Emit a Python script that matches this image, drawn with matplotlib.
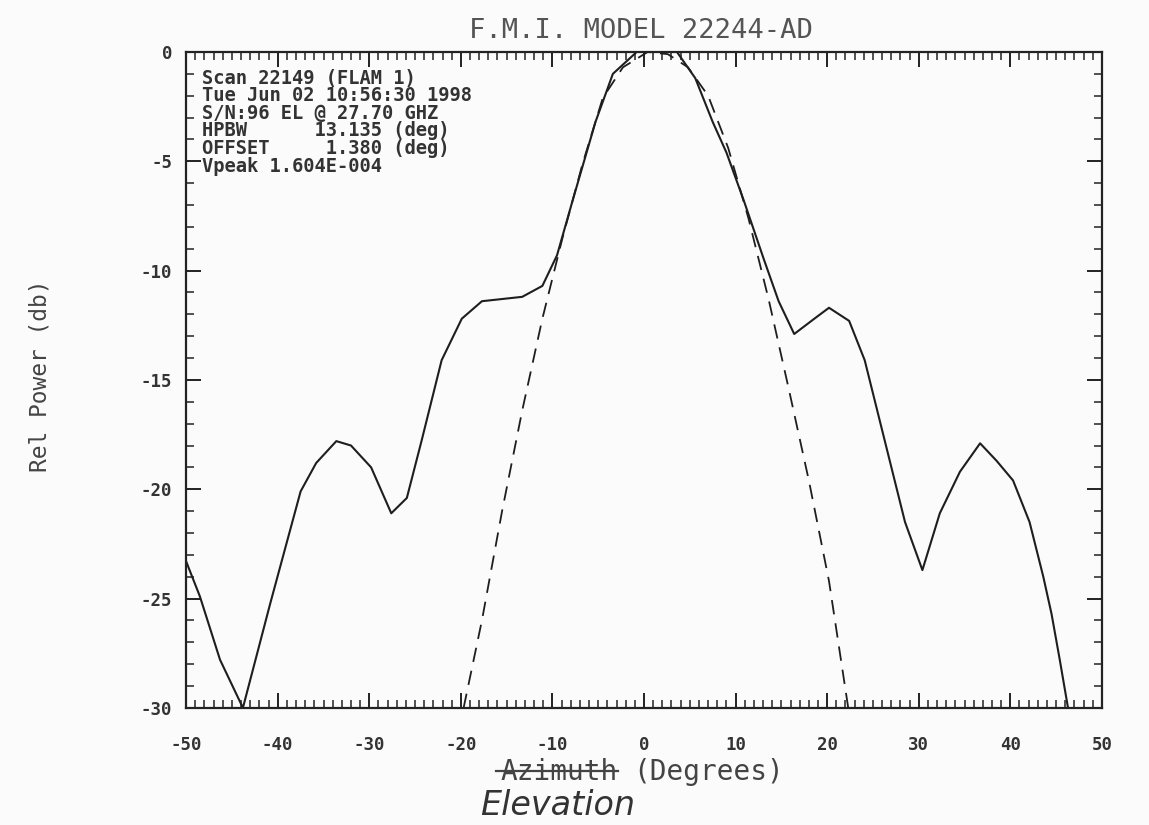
import matplotlib
matplotlib.use("Agg")
import matplotlib.pyplot as plt
from matplotlib.ticker import MultipleLocator
from matplotlib.lines import Line2D

# Measured pattern (solid)
meas_az = [-50, -48.5, -46.3, -43.8, -40.8, -37.5, -35.8, -33.6, -32.0, -29.8,
           -27.6, -25.9, -24.3, -22.1, -19.9, -17.7, -15.5, -13.3, -11.1, -9.5, -7.8,
           -5.3, -3.4, -0.8, 1.4, 3.6, 5.6, 7.5, 9.0, 10.9, 13.1, 14.7, 16.4, 18.6, 20.2,
           22.4, 24.1, 26.3, 28.5, 30.4, 32.3, 34.5, 36.7, 38.5, 40.3, 42.1, 43.6, 44.5,
           45.4, 46.3]
meas_db = [-23.3, -24.9, -27.8, -30.0, -25.2, -20.1, -18.8, -17.8, -18.0, -19.0,
           -21.1, -20.4, -17.8, -14.1, -12.2, -11.4, -11.3, -11.2, -10.7, -9.3, -6.8,
           -3.2, -1.0, 0.0, 0.0, 0.0, -1.2, -3.2, -4.6, -6.8, -9.5, -11.4, -12.9, -12.2, -11.7,
           -12.3, -14.1, -17.8, -21.5, -23.7, -21.1, -19.2, -17.9, -18.7, -19.6, -21.5,
           -24.0, -25.7, -27.8, -30.0]

# Fitted main beam (dashed)
fit_az = [-19.7, -17.7, -15.5, -13.3, -11.1, -8.9, -6.7, -4.5, -2.3, 0.4, 2.6, 4.8, 7.0,
          9.2, 11.4, 13.6, 15.8, 18.0, 20.2, 22.3]
fit_db = [-30.0, -26.0, -21.0, -16.4, -12.2, -8.5, -5.1, -2.1, -0.7, 0.0, -0.1, -0.7, -2.0,
          -4.4, -7.6, -11.3, -15.4, -19.6, -24.2, -30.0]

xticks = [-50, -40, -30, -20, -10, 0, 10, 20, 30, 40, 50]
xticklabels = ["-50", "-40", "-30", "-20", "-10", "0", "10", "20", "30", "40", "50"]
yticks = [0, -5, -10, -15, -20, -25, -30]
yticklabels = ["0", "-5", "-10", "-15", "-20", "-25", "-30"]

info_lines = ["Scan 22149 (FLAM 1)",
              "Tue Jun 02 10:56:30 1998",
              "S/N:96 EL @ 27.70 GHZ",
              "HPBW      13.135 (deg)",
              "OFFSET     1.380 (deg)",
              "Vpeak 1.604E-004"]

mono = "DejaVu Sans Mono"
bg = "#fbfbfb"
ink = "#1e1e1e"
fig = plt.figure(figsize=(11.49, 8.25), dpi=100, facecolor=bg)
ax = fig.add_axes([0.162, 0.142, 0.797, 0.795])
ax.set_facecolor(bg)

ax.plot(meas_az, meas_db, color=ink, lw=1.5)
ax.plot(fit_az, fit_db, color=ink, lw=1.3, dashes=(8, 5))

ax.set_xlim(-50, 50)
ax.set_ylim(-30, 0)
ax.set_xticks(xticks)
ax.set_xticklabels(xticklabels, fontfamily=mono, fontweight="bold", fontsize=12.5,
                   color="#333333")
ax.set_yticks(yticks)
ax.set_yticklabels(yticklabels, fontfamily=mono, fontweight="bold", fontsize=12.5,
                   color="#333333")
ax.xaxis.set_minor_locator(MultipleLocator(1))
ax.yaxis.set_minor_locator(MultipleLocator(1))
ax.tick_params(which="both", direction="in", top=True, right=True, color="#222222")
ax.tick_params(which="major", length=11, width=1.4)
ax.tick_params(which="minor", length=6, width=1.1)
ax.tick_params(axis="x", which="major", pad=20)
ax.tick_params(axis="y", which="major", pad=10)
for s in ax.spines.values():
    s.set_linewidth(1.6)
    s.set_color("#222222")

fig.text(0.035, 0.545, "Rel Power (db)", fontfamily=mono, fontsize=16.5, color="#444444",
         rotation=90, ha="center", va="center")

# x label with struck-through "Azimuth"
fig.text(0.538, 0.064, "Azimuth", fontfamily=mono, fontsize=20, color="#444444",
         ha="right", va="center")
fig.text(0.551, 0.064, "(Degrees)", fontfamily=mono, fontsize=20, color="#444444",
         ha="left", va="center")
fig.add_artist(Line2D([0.432, 0.538], [0.066, 0.066], transform=fig.transFigure,
                      color="#444444", lw=1.6))
fig.text(0.418, 0.004, "Elevation", fontfamily="DejaVu Sans", style="italic", fontsize=24,
         color="#333333", ha="left", va="bottom")

fig.text(0.558, 0.962, "F.M.I. MODEL 22244-AD", fontfamily=mono, fontsize=19.5,
         color="#555555", ha="center", va="center")

for i, line in enumerate(info_lines):
    ax.text(0.0175, 0.960 - i * 0.0268, line, transform=ax.transAxes,
            fontfamily=mono, fontweight="bold", fontsize=13.5, color="#333333",
            ha="left", va="center")

fig.savefig("out.png", dpi=100, facecolor=fig.get_facecolor())
